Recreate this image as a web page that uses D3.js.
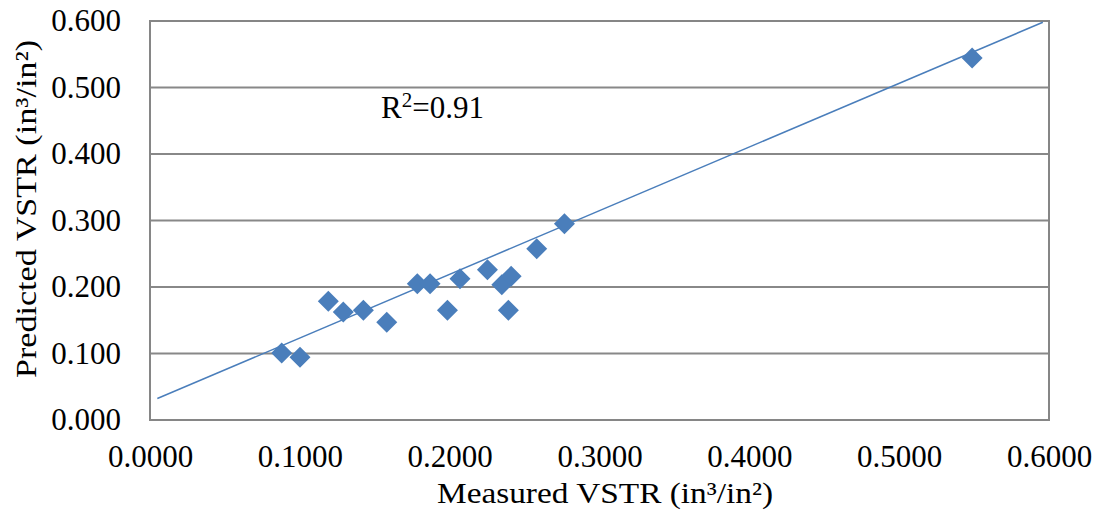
<!DOCTYPE html>
<html>
<head>
<meta charset="utf-8">
<script src="https://cdn.jsdelivr.net/npm/d3@7"></script>
<style>
  body { margin: 0; background: #fff; }
  text { font-family: "Liberation Serif", "Times New Roman", serif; fill: #000; }
</style>
</head>
<body>
<span></span>
<script>
// measured vs predicted VSTR scatter with linear fit

const measured  = [0.0879, 0.1001, 0.1190, 0.1290, 0.1424, 0.1580, 0.1784, 0.1869, 0.1985, 0.2069, 0.2252, 0.2348, 0.2392, 0.2410, 0.2581, 0.2766, 0.5487];
const predicted = [0.1009, 0.0943, 0.1784, 0.1625, 0.1649, 0.1469, 0.2050, 0.2050, 0.1649, 0.2125, 0.2260, 0.2035, 0.1649, 0.2160, 0.2576, 0.2951, 0.5445];

// end points of the fitted line as drawn
const fitX = [0.0049, 0.5959];
const fitY = [0.0323, 0.5981];

const xTicks = [0, 0.1, 0.2, 0.3, 0.4, 0.5, 0.6];
const yTicks = [0, 0.1, 0.2, 0.3, 0.4, 0.5, 0.6];

const xTitle = "Measured VSTR (in³/in²)";
const yTitle = "Predicted VSTR (in³/in²)";
const rSquared = "0.91";

var width = 1099, height = 521;
var margin = {top: 21, right: 50, bottom: 101, left: 150};

const svg = d3.select("span")
    .append("svg")
    .attr("width", width)
    .attr("height", height);

const xScale = d3.scaleLinear()
    .domain([0, 0.6])
    .range([margin.left, width - margin.right]);
const yScale = d3.scaleLinear()
    .domain([0, 0.6])
    .range([height - margin.bottom, margin.top]);

// horizontal grid
svg.append("g")
    .selectAll("line")
    .data(yTicks.slice(1, -1))
    .enter()
    .append("line")
        .attr("x1", xScale(0))
        .attr("x2", xScale(0.6))
        .attr("y1", d => yScale(d))
        .attr("y2", d => yScale(d))
        .attr("stroke", "#888")
        .attr("stroke-width", 2);

// plot frame
svg.append("rect")
    .attr("x", xScale(0))
    .attr("y", yScale(0.6))
    .attr("width", xScale(0.6) - xScale(0))
    .attr("height", yScale(0) - yScale(0.6))
    .attr("fill", "none")
    .attr("stroke", "#868686")
    .attr("stroke-width", 2);

// axes, labels only
svg.append("g")
    .attr("transform", `translate(0, ${yScale(0)})`)
    .attr("font-family", null)
    .call(d3.axisBottom(xScale).tickValues(xTicks).tickFormat(d3.format(".4f")).tickSize(0).tickPadding(25))
    .call(g => g.select(".domain").remove())
    .call(g => g.attr("font-family", null).attr("font-size", null))
    .selectAll("text")
        .style("font-family", "'Liberation Serif', serif")
        .style("font-size", "31px");

svg.append("g")
    .attr("transform", `translate(${xScale(0)}, 0)`)
    .call(d3.axisLeft(yScale).tickValues(yTicks).tickFormat(d3.format(".3f")).tickSize(0).tickPadding(29))
    .call(g => g.select(".domain").remove())
    .call(g => g.attr("font-family", null).attr("font-size", null))
    .selectAll("text")
        .style("font-family", "'Liberation Serif', serif")
        .style("font-size", "31px");

// fitted line
svg.append("line")
    .attr("x1", xScale(fitX[0]))
    .attr("y1", yScale(fitY[0]))
    .attr("x2", xScale(fitX[1]))
    .attr("y2", yScale(fitY[1]))
    .attr("stroke", "#4a7ebb")
    .attr("stroke-width", 1.5);

// diamonds
var pts = measured.map((m, i) => ({x: m, y: predicted[i]}));
svg.selectAll("myDiamonds")
    .data(pts)
    .enter()
    .append("path")
        .attr("d", "M0,-10.5L10.5,0L0,10.5L-10.5,0Z")
        .attr("transform", d => `translate(${xScale(d.x)},${yScale(d.y)})`)
        .attr("fill", "#4a7ebb");

// R squared label
var r2 = svg.append("text")
    .attr("x", 381)
    .attr("y", 118)
    .style("font-size", "31px");
r2.append("tspan").text("R");
r2.append("tspan").text("2").attr("dy", -11).style("font-size", "21px");
r2.append("tspan").text("=" + rSquared).attr("dy", 11);

// axis titles
svg.append("text")
    .attr("text-anchor", "middle")
    .attr("x", 605)
    .attr("y", 503)
    .attr("textLength", 336)
    .attr("lengthAdjust", "spacingAndGlyphs")
    .style("font-size", "30px")
    .text(xTitle);

svg.append("text")
    .attr("text-anchor", "middle")
    .attr("transform", "translate(36, 209) rotate(-90)")
    .attr("textLength", 338)
    .attr("lengthAdjust", "spacingAndGlyphs")
    .style("font-size", "30px")
    .text(yTitle);
</script>
</body>
</html>
